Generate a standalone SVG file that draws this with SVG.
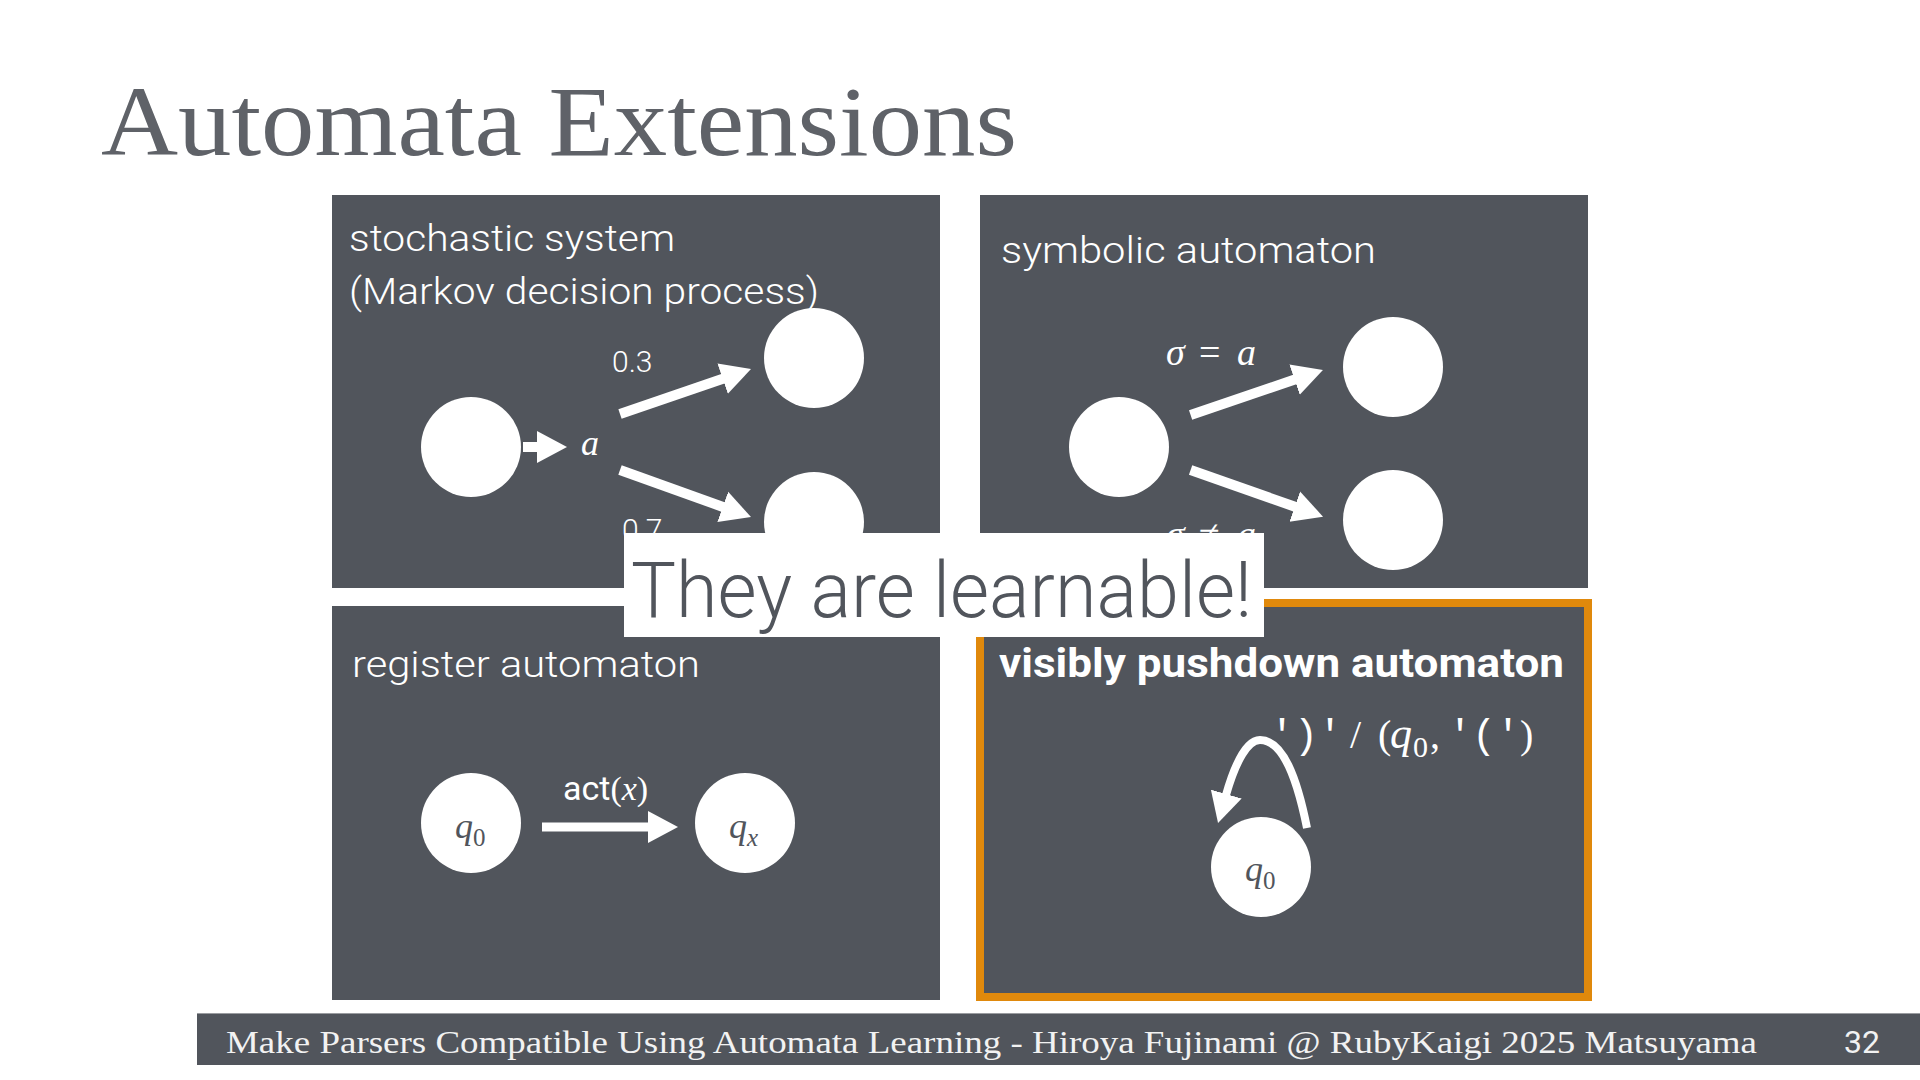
<svg xmlns="http://www.w3.org/2000/svg" width="1920" height="1080" viewBox="0 0 1920 1080">
<defs>
<style>
.panel{fill:#51555c}
.node{fill:#ffffff}
.sans{font-family:Roboto,"Open Sans",Lato,sans-serif;font-weight:300;fill:#ffffff}
.math{font-family:"Liberation Serif","DejaVu Serif",serif;fill:#ffffff}
.it{font-style:italic}
.mono{font-family:"Liberation Mono","DejaVu Sans Mono",monospace;fill:#ffffff}
.edge{stroke:#ffffff;stroke-width:10;fill:none}
.nlabel{font-family:"Liberation Serif","DejaVu Serif",serif;fill:#51555c}
</style>
<marker id="head" markerUnits="userSpaceOnUse" markerWidth="32" markerHeight="34" viewBox="0 0 32 34" refX="1" refY="17" orient="auto">
<path d="M0,1 L30,17 L0,33 Z" fill="#ffffff"/>
</marker>
</defs>
<rect width="1920" height="1080" fill="#ffffff"/>

<text x="101" y="155" font-family="'Liberation Serif','DejaVu Serif',serif" font-size="100" fill="#5f6268" textLength="916" lengthAdjust="spacingAndGlyphs">Automata Extensions</text>

<!-- Panel 1: stochastic system -->
<g id="panel-stochastic">
<rect class="panel" x="332" y="195" width="608" height="393"/>
<text class="sans" x="349" y="251" font-size="37" textLength="326" lengthAdjust="spacingAndGlyphs">stochastic system</text>
<text class="sans" x="349" y="304" font-size="37" textLength="470" lengthAdjust="spacingAndGlyphs">(Markov decision process)</text>
</g>
<g id="node-s0"><circle class="node" cx="471" cy="447" r="50"/></g>
<g id="node-s1"><circle class="node" cx="814" cy="358" r="50"/></g>
<g id="node-s2"><circle class="node" cx="814" cy="522" r="50"/></g>
<text class="math it" x="581" y="455" font-size="36">a</text>
<text class="sans" x="612" y="372" font-size="30">0.3</text>
<text class="sans" x="622" y="540" font-size="30">0.7</text>

<!-- Panel 2: symbolic automaton -->
<g id="panel-symbolic">
<rect class="panel" x="980" y="195" width="608" height="393"/>
<text class="sans" x="1001" y="263" font-size="37" textLength="375" lengthAdjust="spacingAndGlyphs">symbolic automaton</text>
</g>
<g id="node-y0"><circle class="node" cx="1119" cy="447" r="50"/></g>
<g id="node-y1"><circle class="node" cx="1393" cy="367" r="50"/></g>
<g id="node-y2"><circle class="node" cx="1393" cy="520" r="50"/></g>
<text class="math" font-size="38"><tspan class="it" x="1166" y="365">σ</tspan><tspan x="1199" y="365">=</tspan><tspan class="it" x="1237" y="365">a</tspan></text>
<text class="math" font-size="38"><tspan class="it" x="1166" y="547">σ</tspan><tspan x="1199" y="547">≠</tspan><tspan class="it" x="1237" y="547">a</tspan></text>

<!-- Panel 3: register automaton -->
<g id="panel-register">
<rect class="panel" x="332" y="606" width="608" height="394"/>
<text class="sans" x="352" y="677" font-size="37" textLength="348" lengthAdjust="spacingAndGlyphs">register automaton</text>
</g>
<g id="node-q0">
<circle class="node" cx="471" cy="823" r="50"/>
<text class="nlabel" x="455" y="838" font-size="36"><tspan class="it">q</tspan><tspan font-size="25" dy="8">0</tspan></text>
</g>
<g id="node-qx">
<circle class="node" cx="745" cy="823" r="50"/>
<text class="nlabel" x="729" y="838" font-size="36"><tspan class="it">q</tspan><tspan class="it" font-size="25" dy="8">x</tspan></text>
</g>
<text x="563" y="800" font-size="34" fill="#ffffff" font-family="Roboto,'Open Sans',sans-serif" font-weight="400">act<tspan font-family="'Liberation Serif',serif">(</tspan><tspan font-family="'Liberation Serif',serif" font-style="italic">x</tspan><tspan font-family="'Liberation Serif',serif">)</tspan></text>

<!-- Panel 4: visibly pushdown automaton -->
<g id="panel-vpa">
<rect class="panel" x="980" y="603" width="608" height="394" stroke="#e0890c" stroke-width="8"/>
<text x="999" y="677" font-size="40" fill="#ffffff" font-family="Roboto,'Open Sans',sans-serif" font-weight="700" textLength="565" lengthAdjust="spacingAndGlyphs">visibly pushdown automaton</text>
</g>
<g id="node-p0">
<circle class="node" cx="1261" cy="867" r="50"/>
<text class="nlabel" x="1245" y="881" font-size="36"><tspan class="it">q</tspan><tspan font-size="25" dy="8">0</tspan></text>
</g>
<text fill="#ffffff"><tspan class="mono" font-size="40" x="1270" y="748">')'</tspan><tspan class="math" font-size="40" x="1350" y="748">/</tspan><tspan class="math" font-size="40" x="1378" y="748">(</tspan><tspan class="math it" font-size="44" x="1390" y="748">q</tspan><tspan class="math" font-size="30" x="1413" y="757">0</tspan><tspan class="math" font-size="40" x="1430" y="748">,</tspan><tspan class="mono" font-size="40" x="1448" y="748">'('</tspan><tspan class="math" font-size="40" x="1520" y="748">)</tspan></text>

<!-- Connectors -->
<g id="connectors">
<line class="edge" x1="523" y1="447" x2="538" y2="447" marker-end="url(#head)"/>
<line class="edge" x1="620" y1="414" x2="723.6" y2="378.4" marker-end="url(#head)"/>
<line class="edge" x1="620" y1="470" x2="723.7" y2="507.2" marker-end="url(#head)"/>
<line class="edge" x1="1190.6" y1="415" x2="1295.5" y2="379.3" marker-end="url(#head)"/>
<line class="edge" x1="1190.6" y1="470" x2="1295.7" y2="507" marker-end="url(#head)"/>
<line class="edge" style="stroke-width:9" x1="542" y1="827" x2="649" y2="827" marker-end="url(#head)"/>
<path class="edge" style="stroke-width:8" d="M1307,828 C1297,778 1283,740 1260,740 C1248,740 1236,760 1226,795" marker-end="url(#head)"/>
</g>

<!-- Overlay callout -->
<g id="callout">
<rect x="624" y="533" width="640" height="104" fill="#ffffff"/>
<text x="631" y="617" font-size="78" fill="#51555c" font-family="Roboto,Lato,'Open Sans',sans-serif" font-weight="300" textLength="621" lengthAdjust="spacingAndGlyphs">They are learnable!</text>
</g>

<!-- Footer -->
<g id="footer">
<rect x="197" y="1013" width="1723" height="52" fill="#51555c"/>
<line x1="197" y1="1013.5" x2="1920" y2="1013.5" stroke="#9a9ca0" stroke-width="1"/>
<text x="226" y="1053" font-size="32" fill="#f2f2f2" font-family="'Liberation Serif','DejaVu Serif',serif" textLength="1531" lengthAdjust="spacingAndGlyphs">Make Parsers Compatible Using Automata Learning - Hiroya Fujinami @ RubyKaigi 2025 Matsuyama</text>
<text x="1844" y="1053" font-size="32" fill="#f2f2f2" font-family="Roboto,'Open Sans',sans-serif" font-weight="400">32</text>
</g>
</svg>
